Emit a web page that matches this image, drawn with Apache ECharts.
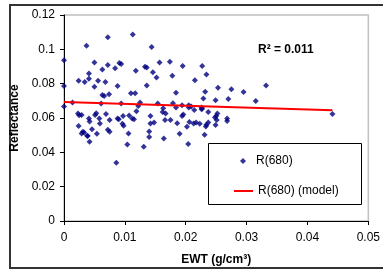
<!DOCTYPE html>
<html>
<head>
<meta charset="utf-8">
<script src="https://cdn.jsdelivr.net/npm/echarts@6/dist/echarts.min.js"></script>
<style>
html, body { margin: 0; padding: 0; background: #fff; }
#main { width: 383px; height: 271px; }
</style>
</head>
<body>
<div id="main"></div>
<script>
// EWT (g/cm3) of each sample
var ewt = [
	0.0072, 0.0113, 0.0037, 0.0144, 0.0000, 0.0050, 0.0072, 0.0091, 0.0094, 0.0063,
	0.0084, 0.0133, 0.0136, 0.0118, 0.0146, 0.0041, 0.0041, 0.0024, 0.0034, 0.0056,
	0.0068, 0.0088, 0.0050, 0.0136, 0.0000, 0.0063, 0.0066, 0.0074, 0.0110, 0.0117,
	0.0157, 0.0174, 0.0195, 0.0227, 0.0152, 0.0178, 0.0215, 0.0234, 0.0253, 0.0275,
	0.0184, 0.0232, 0.0295, 0.0332, 0.0229, 0.0249, 0.0270, 0.0315, 0.0441,
	0.0014, 0.0061, 0.0094, 0.0125, 0.0122, 0.0000, 0.0023, 0.0025, 0.0029, 0.0051,
	0.0053, 0.0069, 0.0107, 0.0119, 0.0142, 0.0154, 0.0179, 0.0184, 0.0194, 0.0205,
	0.0205, 0.0209, 0.0214, 0.0226, 0.0227, 0.0226, 0.0163, 0.0162, 0.0167, 0.0237,
	0.0252, 0.0250, 0.0248, 0.0196, 0.0194, 0.0097,
	0.0041, 0.0042, 0.0058, 0.0059, 0.0075, 0.0088, 0.0090, 0.0112, 0.0115, 0.0096,
	0.0098, 0.0024, 0.0046, 0.0031, 0.0029, 0.0033, 0.0054, 0.0072, 0.0075, 0.0039,
	0.0106, 0.0140, 0.0042, 0.0104, 0.0140, 0.0131, 0.0086, 0.0142, 0.0148, 0.0166,
	0.0175, 0.0186, 0.0206, 0.0213, 0.0217, 0.0223, 0.0202, 0.0237, 0.0234, 0.0233,
	0.0251, 0.0249, 0.0268, 0.0268, 0.0164, 0.0190, 0.0231, 0.0204, 0.0038
];
// measured reflectance at 680 nm
var refl = [
	0.1071, 0.1086, 0.1021, 0.1013, 0.0936, 0.0924, 0.0909, 0.0921, 0.0915, 0.0882,
	0.0890, 0.0898, 0.0894, 0.0875, 0.0867, 0.0859, 0.0829, 0.0817, 0.0809, 0.0817,
	0.0809, 0.0786, 0.0782, 0.0790, 0.0786, 0.0734, 0.0728, 0.0739, 0.0744, 0.0744,
	0.0924, 0.0928, 0.0903, 0.0903, 0.0836, 0.0846, 0.0820, 0.0853, 0.0776, 0.0767,
	0.0747, 0.0753, 0.0751, 0.0790, 0.0713, 0.0703, 0.0710, 0.0699, 0.0624,
	0.0690, 0.0684, 0.0684, 0.0690, 0.0670, 0.0667, 0.0626, 0.0616, 0.0618, 0.0618,
	0.0628, 0.0624, 0.0615, 0.0640, 0.0612, 0.0684, 0.0686, 0.0661, 0.0674, 0.0674,
	0.0661, 0.0667, 0.0647, 0.0661, 0.0655, 0.0651, 0.0657, 0.0635, 0.0626, 0.0635,
	0.0626, 0.0612, 0.0603, 0.0620, 0.0612, 0.0612,
	0.0597, 0.0580, 0.0597, 0.0568, 0.0588, 0.0597, 0.0593, 0.0597, 0.0593, 0.0566,
	0.0555, 0.0553, 0.0534, 0.0520, 0.0510, 0.0516, 0.0508, 0.0531, 0.0520, 0.0495,
	0.0510, 0.0522, 0.0462, 0.0445, 0.0489, 0.0432, 0.0339, 0.0568, 0.0574, 0.0589,
	0.0588, 0.0570, 0.0576, 0.0568, 0.0574, 0.0566, 0.0549, 0.0574, 0.0560, 0.0551,
	0.0588, 0.0559, 0.0597, 0.0582, 0.0480, 0.0508, 0.0503, 0.0449, 0.0497
];
// fitted model line
var modelX = [0, 0.0441];
var modelY = [0.0693, 0.0645];
var xTicks = { min: 0, max: 0.05, step: 0.01 };
var yTicks = { min: 0, max: 0.12, step: 0.02 };
var r2Text = 'R² = 0.011';

var font = 'Liberation Sans, Arial, sans-serif';

var points = [];
for (var i = 0; i < ewt.length; i++) {
	points.push([ewt[i], refl[i]]);
}
var modelData = [];
for (var j = 0; j < modelX.length; j++) {
	modelData.push([modelX[j], modelY[j]]);
}

var chart = echarts.init(document.getElementById('main'));
var option = {
	backgroundColor : '#fff',
	animation : false,
	grid : {
		left : 64,
		right : 8,
		top : 15,
		bottom : 48,
		show : true,
		borderColor : '#c0c0c0',
		borderWidth : 1.5
	},
	xAxis : {
		type : 'value',
		min : xTicks.min,
		max : xTicks.max,
		interval : xTicks.step,
		name : 'EWT (g/cm³)',
		nameLocation : 'middle',
		nameGap : 33,
		nameTextStyle : { fontFamily : font, fontSize : 12, fontWeight : 'bold', color : '#000' },
		splitLine : { show : false },
		axisLine : { lineStyle : { color : '#000', width : 1 } },
		axisTick : { length : 4, lineStyle : { color : '#000' } },
		axisLabel : {
			margin : 11,
			fontFamily : font,
			fontSize : 12,
			color : '#000',
			formatter : function(v) { return String(+v.toFixed(2)); }
		}
	},
	yAxis : {
		type : 'value',
		min : yTicks.min,
		max : yTicks.max,
		interval : yTicks.step,
		name : 'Reflectance',
		nameLocation : 'middle',
		nameGap : 39,
		nameTextStyle : { fontFamily : font, fontSize : 12, fontWeight : 'bold', color : '#000' },
		splitLine : { show : false },
		axisLine : { show : true, lineStyle : { color : '#000', width : 1 } },
		axisTick : { show : true, length : 4, lineStyle : { color : '#000' } },
		axisLabel : {
			margin : 9,
			fontFamily : font,
			fontSize : 12,
			color : '#000',
			formatter : function(v) { return String(+v.toFixed(2)); }
		}
	},
	legend : [ {
		data : [ { name : 'R(680)', icon : 'diamond' } ],
		left : 240,
		top : 155,
		padding : 0,
		itemWidth : 6,
		itemHeight : 6,
		z : 10,
		textStyle : { fontFamily : font, fontSize : 12, color : '#000', padding : [ 0, 0, 0, 5 ] }
	}, {
		data : [ { name : 'R(680) (model)', icon : 'rect' } ],
		left : 234,
		top : 185,
		padding : 0,
		itemWidth : 19,
		itemHeight : 2,
		z : 10,
		textStyle : { fontFamily : font, fontSize : 12, color : '#000' }
	} ],
	graphic : [ {
		type : 'rect',
		shape : { x : 10, y : 5, width : 400, height : 263 },
		style : { fill : 'none', stroke : '#333', lineWidth : 2 },
		z : 0
	}, {
		type : 'rect',
		shape : { x : 208.5, y : 143.5, width : 153, height : 61 },
		style : { fill : '#fff', stroke : '#000', lineWidth : 1 },
		z : 5
	}, {
		type : 'text',
		left : 258,
		top : 44,
		style : { text : r2Text, font : 'bold 12px ' + font, fill : '#000' },
		z : 5
	} ],
	series : [ {
		name : 'R(680)',
		type : 'scatter',
		symbol : 'diamond',
		symbolSize : 6,
		itemStyle : { color : '#000080' },
		data : points,
		z : 2
	}, {
		name : 'R(680) (model)',
		type : 'line',
		symbol : 'none',
		showSymbol : false,
		lineStyle : { color : '#ff0000', width : 2 },
		itemStyle : { color : '#ff0000' },
		data : modelData,
		z : 3
	} ]
};
chart.setOption(option);
</script>
</body>
</html>
